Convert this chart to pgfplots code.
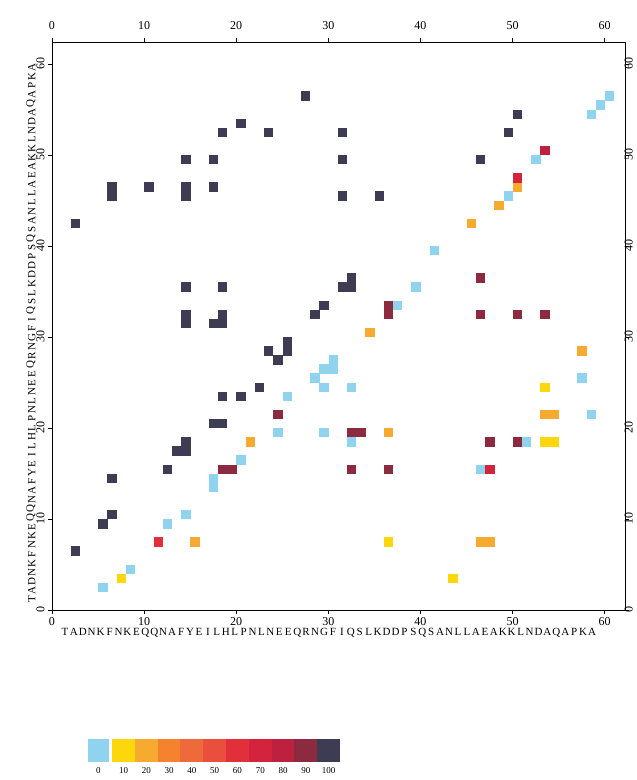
\documentclass[border=0pt]{standalone}
\usepackage{pgfplots}
\pgfplotsset{compat=1.18}
\usepackage{fontspec}
\setmainfont{Liberation Serif}
\definecolor{c0}{HTML}{8FD3EE}
\definecolor{c10}{HTML}{FCD70C}
\definecolor{c20}{HTML}{F7AA30}
\definecolor{c30}{HTML}{F4822E}
\definecolor{c40}{HTML}{EF6A3A}
\definecolor{c50}{HTML}{EA4E3C}
\definecolor{c60}{HTML}{E2303A}
\definecolor{c70}{HTML}{D4233C}
\definecolor{c80}{HTML}{BD213F}
\definecolor{c90}{HTML}{8C2A40}
\definecolor{c100}{HTML}{3D3C52}
\pgfplotstableread{
x y c
5.5 2.5 a0
8.5 4.5 a0
12.5 9.5 a0
14.5 10.5 a0
17.5 13.5 a0
17.5 14.5 a0
20.5 16.5 a0
24.5 19.5 a0
29.5 19.5 a0
25.5 23.5 a0
28.5 25.5 a0
29.5 24.5 a0
29.5 26.5 a0
30.5 26.5 a0
30.5 27.5 a0
32.5 18.5 a0
32.5 24.5 a0
37.5 33.5 a0
39.5 35.5 a0
41.5 39.5 a0
49.5 45.5 a0
52.5 49.5 a0
58.5 54.5 a0
59.5 55.5 a0
60.5 56.5 a0
57.5 25.5 a0
58.5 21.5 a0
46.5 15.5 a0
51.5 18.5 a0
7.5 3.5 a10
36.5 7.5 a10
43.5 3.5 a10
53.5 24.5 a10
53.5 18.5 a10
54.5 18.5 a10
15.5 7.5 a20
21.5 18.5 a20
34.5 30.5 a20
57.5 28.5 a20
36.5 19.5 a20
48.5 44.5 a20
45.5 42.5 a20
53.5 21.5 a20
54.5 21.5 a20
46.5 7.5 a20
47.5 7.5 a20
50.5 46.5 a20
11.5 7.5 a60
50.5 47.5 a70
47.5 15.5 a70
53.5 50.5 a80
18.5 15.5 a90
19.5 15.5 a90
24.5 21.5 a90
32.5 19.5 a90
33.5 19.5 a90
32.5 15.5 a90
36.5 15.5 a90
47.5 18.5 a90
50.5 18.5 a90
46.5 36.5 a90
36.5 32.5 a90
36.5 33.5 a90
46.5 32.5 a90
50.5 32.5 a90
53.5 32.5 a90
2.5 6.5 a100
5.5 9.5 a100
6.5 10.5 a100
6.5 14.5 a100
12.5 15.5 a100
13.5 17.5 a100
14.5 17.5 a100
14.5 18.5 a100
17.5 20.5 a100
18.5 20.5 a100
18.5 23.5 a100
20.5 23.5 a100
22.5 24.5 a100
24.5 27.5 a100
23.5 28.5 a100
25.5 28.5 a100
25.5 29.5 a100
14.5 31.5 a100
14.5 32.5 a100
17.5 31.5 a100
18.5 31.5 a100
18.5 32.5 a100
28.5 32.5 a100
29.5 33.5 a100
14.5 35.5 a100
18.5 35.5 a100
31.5 35.5 a100
32.5 35.5 a100
32.5 36.5 a100
2.5 42.5 a100
6.5 45.5 a100
6.5 46.5 a100
10.5 46.5 a100
14.5 45.5 a100
14.5 46.5 a100
17.5 46.5 a100
14.5 49.5 a100
17.5 49.5 a100
18.5 52.5 a100
20.5 53.5 a100
23.5 52.5 a100
27.5 56.5 a100
31.5 52.5 a100
31.5 49.5 a100
31.5 45.5 a100
35.5 45.5 a100
50.5 54.5 a100
49.5 52.5 a100
46.5 49.5 a100
}\contacts
\begin{document}
\begin{tikzpicture}
\path[use as bounding box] (0,0) rectangle (637pt,780pt);
\pgfplotsset{mapax/.style={at={(52pt,170pt)}, anchor=south west, scale only axis,
  width=573pt, height=568pt, xmin=0, xmax=62.2, ymin=0, ymax=62.4,
  xtick={0,10,...,60}, ytick={0,10,...,60},
  /pgf/number format/assume math mode=true,
  tick label style={font=\fontsize{12}{14}\selectfont}}}
\begin{axis}[mapax, axis line style={line width=0.8pt}, tick align=outside,
  major tick length=4pt, tick style={black, line width=0.6pt},
  yticklabel style={rotate=90, anchor=south},
  extra x ticks={1.4,2.37,...,58.7},
  extra x tick labels={T,A,D,N,K,F,N,K,E,Q,Q,N,A,F,Y,E,I,L,H,L,P,N,L,N,E,E,Q,R,N,G,F,I,Q,S,L,K,D,D,P,S,Q,S,A,N,L,L,A,E,A,K,K,L,N,D,A,Q,A,P,K,A},
  extra x tick style={major tick length=0pt, tick label style={font=\fontsize{11}{12}\selectfont, yshift=-15pt}},
  extra y ticks={1.2,2.19,...,59.8},
  extra y tick labels={T,A,D,N,K,F,N,K,E,Q,Q,N,A,F,Y,E,I,L,H,L,P,N,L,N,E,E,Q,R,N,G,F,I,Q,S,L,K,D,D,P,S,Q,S,A,N,L,L,A,E,A,K,K,L,N,D,A,Q,A,P,K,A},
  extra y tick style={major tick length=0pt, tick label style={font=\fontsize{11}{12}\selectfont, xshift=-13pt}},
]
\addplot[scatter, only marks, scatter src=explicit symbolic, mark size=4.2pt,
  scatter/classes={
    a0={mark=square*,c0}, a10={mark=square*,c10}, a20={mark=square*,c20},
    a60={mark=square*,c60}, a70={mark=square*,c70}, a80={mark=square*,c80},
    a90={mark=square*,c90}, a100={mark=square*,c100}}]
  table[x=x, y=y, meta=c] {\contacts};
\end{axis}
\begin{axis}[mapax, axis line style={draw=none}, tick style={draw=none},
  xticklabel pos=upper, yticklabel pos=right,
  xticklabel style={yshift=9pt},
  yticklabel style={rotate=90, anchor=north, yshift=4pt}]
\addplot[draw=none] coordinates {(0,0)};
\end{axis}
\begin{axis}[at={(88pt,18pt)}, anchor=south west, scale only axis,
  width=252pt, height=23pt, xmin=-0.56, xmax=10.5, ymin=0, ymax=1,
  axis line style={draw=none}, tick style={draw=none}, ytick=\empty,
  xtick={-0.1,1,2,3,4,5,6,7,8,9,10},
  xticklabels={0,10,20,30,40,50,60,70,80,90,100},
  /pgf/number format/assume math mode=true,
  xticklabel style={font=\fontsize{9}{10}\selectfont, yshift=-2pt}]
\addplot[ybar, bar width=21pt, bar shift=0pt, fill=c0, draw=none] coordinates {(-0.1,1)};
\addplot[ybar, bar width=22.9pt, bar shift=0pt, fill=c10, draw=none] coordinates {(1,1)};
\addplot[ybar, bar width=22.9pt, bar shift=0pt, fill=c20, draw=none] coordinates {(2,1)};
\addplot[ybar, bar width=22.9pt, bar shift=0pt, fill=c30, draw=none] coordinates {(3,1)};
\addplot[ybar, bar width=22.9pt, bar shift=0pt, fill=c40, draw=none] coordinates {(4,1)};
\addplot[ybar, bar width=22.9pt, bar shift=0pt, fill=c50, draw=none] coordinates {(5,1)};
\addplot[ybar, bar width=22.9pt, bar shift=0pt, fill=c60, draw=none] coordinates {(6,1)};
\addplot[ybar, bar width=22.9pt, bar shift=0pt, fill=c70, draw=none] coordinates {(7,1)};
\addplot[ybar, bar width=22.9pt, bar shift=0pt, fill=c80, draw=none] coordinates {(8,1)};
\addplot[ybar, bar width=22.9pt, bar shift=0pt, fill=c90, draw=none] coordinates {(9,1)};
\addplot[ybar, bar width=22.9pt, bar shift=0pt, fill=c100, draw=none] coordinates {(10,1)};
\end{axis}
\end{tikzpicture}
\end{document}
